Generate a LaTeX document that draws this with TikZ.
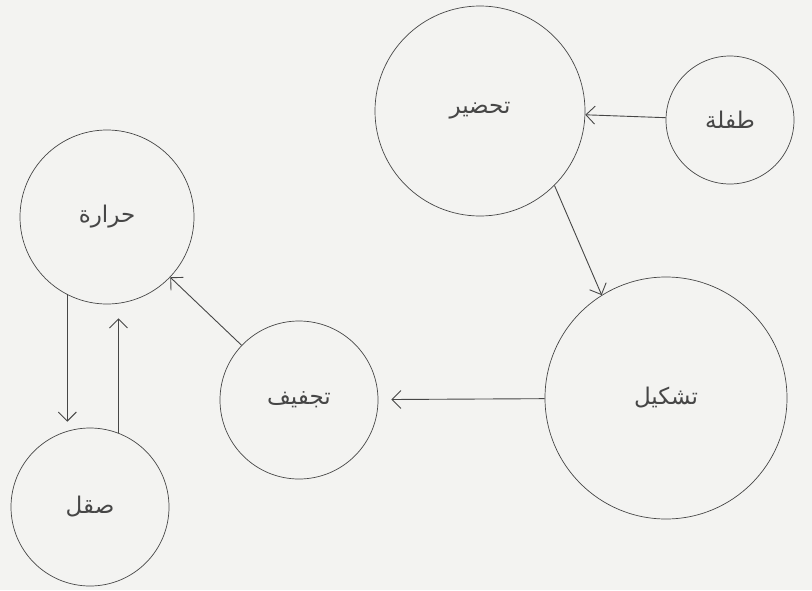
\documentclass[tikz,border=0pt]{standalone}
\usepackage{fontspec}
\usepackage{xcolor}
\usepackage{tikz}
\usetikzlibrary{arrows.meta}
\newfontfamily\arabicfont[Script=Arabic]{DejaVu Sans}
\TeXXeTstate=1
\definecolor{paper}{RGB}{243,243,241}
\definecolor{ink}{RGB}{70,70,70}

\begin{document}
\begin{tikzpicture}[x=1pt,y=-1pt,
  stage/.style={circle, draw=ink, line width=0.7pt, inner sep=0, text=ink, font=\arabicfont\fontsize{23}{27}\selectfont},
  flow/.style={draw=ink, line width=0.9pt, -{Straight Barb[length=9pt,width=18pt,line width=0.9pt]}}]
\fill[paper] (0,0) rectangle (812,590);
\useasboundingbox (0,0) rectangle (812,590);
%stages
\node[stage, minimum size=128] (tifla) at (730,120) {\beginR طفلة\endR};
\node[stage, minimum size=210] (tahdir) at (480,111) {\beginR تحضير\endR};
\node[stage, minimum size=242] (tashkil) at (666,398) {\beginR تشكيل\endR};
\node[stage, minimum size=158] (tajfif) at (299,400) {\beginR تجفيف\endR};
\node[stage, minimum size=174] (harara) at (107,217) {\beginR حرارة\endR};
\node[stage, minimum size=158] (saql) at (90,507) {\beginR صقل\endR};
\draw [flow] (tifla) edge (tahdir);
\draw [flow] (tahdir.-45) -- (tashkil.122);
\draw [flow, shorten >=13pt] (tashkil) edge (tajfif);
\draw [flow] (tajfif) edge (harara);
\draw [flow, shorten >=6pt] (harara.-117) -- (harara.-117 |- saql.north);
\draw [flow, shorten >=14pt] (saql.69) -- (saql.69 |- harara.south);
\end{tikzpicture}
\end{document}
